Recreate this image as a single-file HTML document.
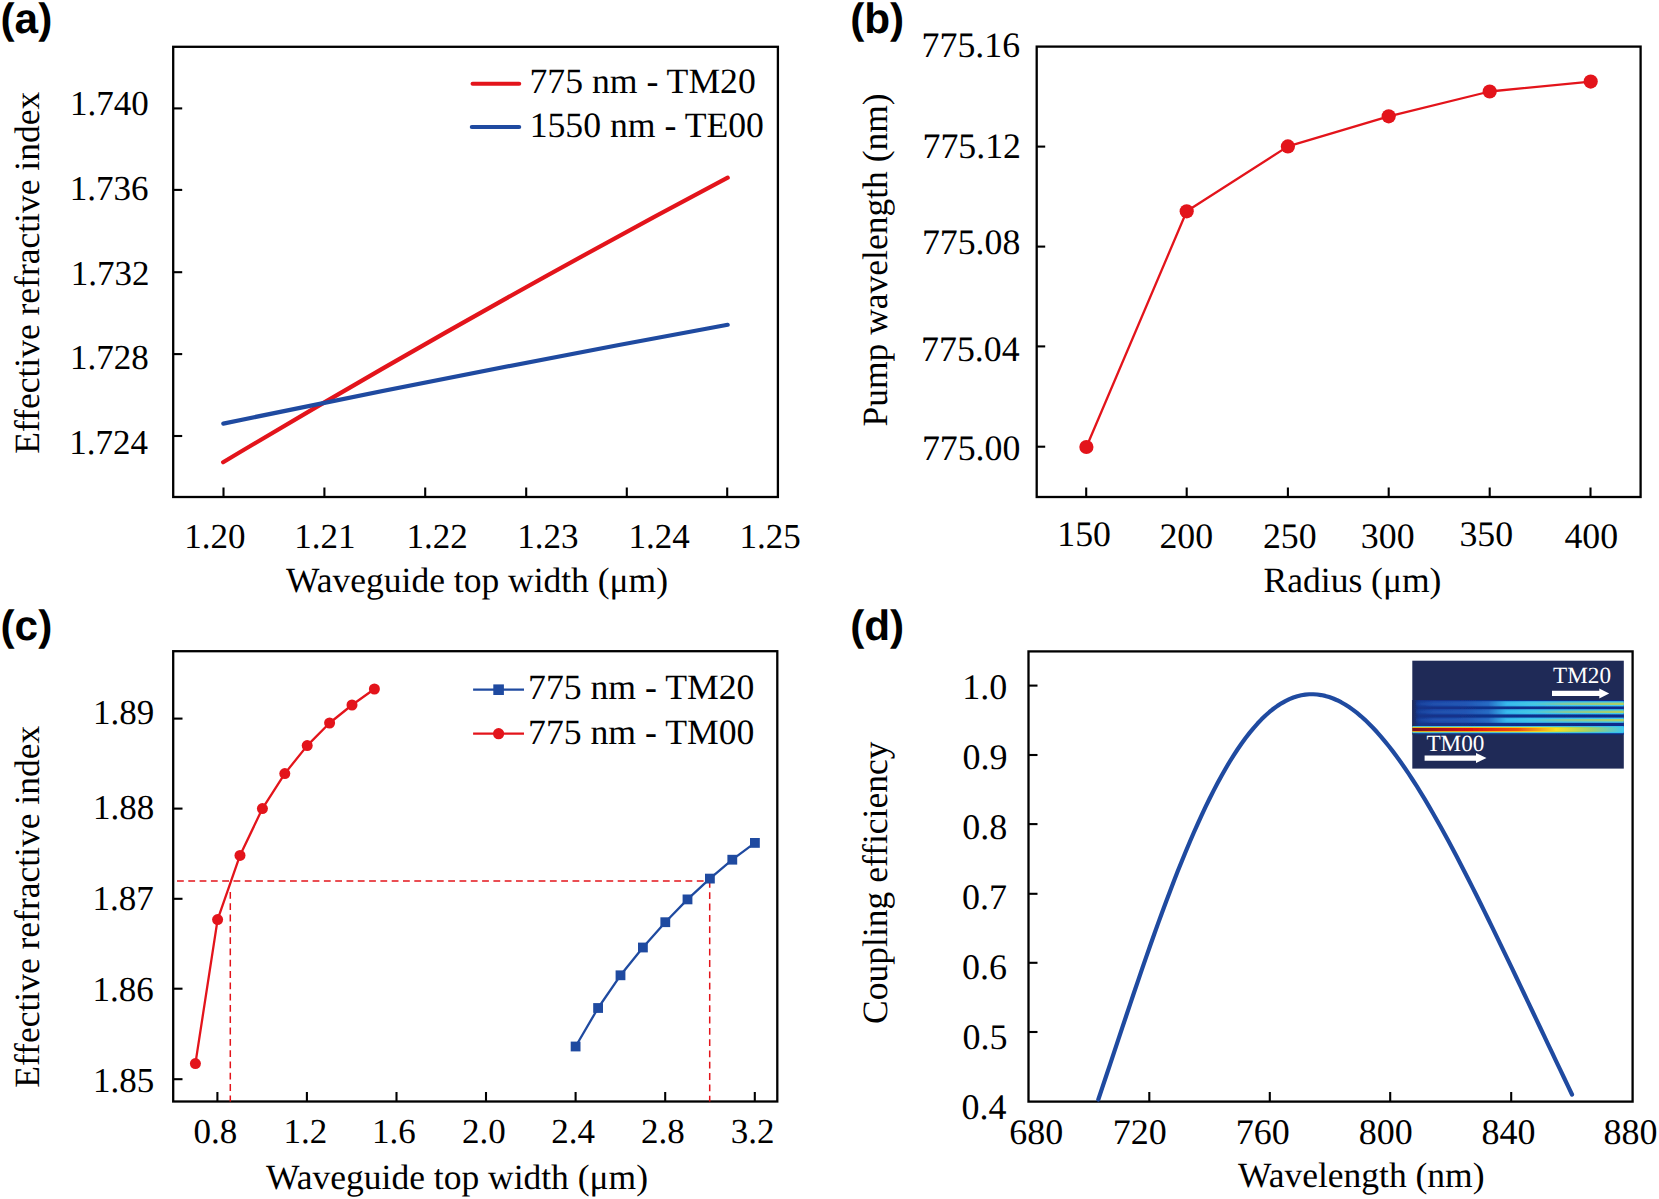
<!DOCTYPE html>
<html><head><meta charset="utf-8"><style>
html,body{margin:0;padding:0;background:#fff;}
svg{display:block;}
text{text-rendering:geometricPrecision;}
</style></head><body>
<svg width="1659" height="1199" viewBox="0 0 1659 1199">
<rect width="1659" height="1199" fill="#fff"/>
<text x="0.54" y="33.03" font-family='"Liberation Sans", sans-serif' font-size="42.3" font-weight="bold" fill="#000">(a)</text>
<text x="850.18" y="33.03" font-family='"Liberation Sans", sans-serif' font-size="42.3" font-weight="bold" fill="#000">(b)</text>
<text x="0.54" y="639.83" font-family='"Liberation Sans", sans-serif' font-size="42.3" font-weight="bold" fill="#000">(c)</text>
<text x="850.18" y="639.83" font-family='"Liberation Sans", sans-serif' font-size="42.3" font-weight="bold" fill="#000">(d)</text>
<rect x="173.2" y="46.8" width="604.7" height="450.2" fill="none" stroke="#000" stroke-width="2.3"/>
<line x1="223.5" y1="497" x2="223.5" y2="487.5" stroke="#000" stroke-width="2.1" stroke-linecap="butt"/>
<line x1="324.4" y1="497" x2="324.4" y2="487.5" stroke="#000" stroke-width="2.1" stroke-linecap="butt"/>
<line x1="425.2" y1="497" x2="425.2" y2="487.5" stroke="#000" stroke-width="2.1" stroke-linecap="butt"/>
<line x1="526.2" y1="497" x2="526.2" y2="487.5" stroke="#000" stroke-width="2.1" stroke-linecap="butt"/>
<line x1="626.8" y1="497" x2="626.8" y2="487.5" stroke="#000" stroke-width="2.1" stroke-linecap="butt"/>
<line x1="727.2" y1="497" x2="727.2" y2="487.5" stroke="#000" stroke-width="2.1" stroke-linecap="butt"/>
<line x1="173.2" y1="108.4" x2="182.2" y2="108.4" stroke="#000" stroke-width="2.1" stroke-linecap="butt"/>
<line x1="173.2" y1="189.9" x2="182.2" y2="189.9" stroke="#000" stroke-width="2.1" stroke-linecap="butt"/>
<line x1="173.2" y1="272.2" x2="182.2" y2="272.2" stroke="#000" stroke-width="2.1" stroke-linecap="butt"/>
<line x1="173.2" y1="354.1" x2="182.2" y2="354.1" stroke="#000" stroke-width="2.1" stroke-linecap="butt"/>
<line x1="173.2" y1="436" x2="182.2" y2="436" stroke="#000" stroke-width="2.1" stroke-linecap="butt"/>
<text x="70.08" y="115.31" font-family='"Liberation Serif", serif' font-size="35" fill="#000">1.740</text>
<text x="69.8" y="200.01" font-family='"Liberation Serif", serif' font-size="35" fill="#000">1.736</text>
<text x="70.71" y="284.51" font-family='"Liberation Serif", serif' font-size="35" fill="#000">1.732</text>
<text x="70.08" y="369.41" font-family='"Liberation Serif", serif' font-size="35" fill="#000">1.728</text>
<text x="69.31" y="453.81" font-family='"Liberation Serif", serif' font-size="35" fill="#000">1.724</text>
<text x="184.2" y="547.71" font-family='"Liberation Serif", serif' font-size="35" fill="#000">1.20</text>
<text x="294.19" y="547.71" font-family='"Liberation Serif", serif' font-size="35" fill="#000">1.21</text>
<text x="406.51" y="547.71" font-family='"Liberation Serif", serif' font-size="35" fill="#000">1.22</text>
<text x="517.13" y="547.71" font-family='"Liberation Serif", serif' font-size="35" fill="#000">1.23</text>
<text x="628.41" y="547.71" font-family='"Liberation Serif", serif' font-size="35" fill="#000">1.24</text>
<text x="739.53" y="547.71" font-family='"Liberation Serif", serif' font-size="35" fill="#000">1.25</text>
<text x="286.1" y="592" font-family='"Liberation Serif", serif' font-size="35.5" fill="#000">Waveguide top width (μm)</text>
<text transform="translate(39.4,452.8) rotate(-90)" x="-0.99" y="0" font-family='"Liberation Serif", serif' font-size="35.5">Effective refractive index</text>
<path d="M223.1,462.25 Q475.35,311.4 727.7,177.7" fill="none" stroke="#e3141b" stroke-width="4.2" stroke-linecap="round"/>
<path d="M223.3,423.6 Q475.5,371.1 727.7,324.8" fill="none" stroke="#1f4aa0" stroke-width="4.2" stroke-linecap="round"/>
<line x1="472.6" y1="83.8" x2="519.2" y2="83.8" stroke="#e3141b" stroke-width="4.1" stroke-linecap="round"/>
<line x1="471.8" y1="127" x2="519.2" y2="127" stroke="#1f4aa0" stroke-width="4.1" stroke-linecap="round"/>
<text x="529.44" y="93.2" font-family='"Liberation Serif", serif' font-size="35.7" fill="#000">775 nm - TM20</text>
<text x="529.66" y="136.5" font-family='"Liberation Serif", serif' font-size="35.7" fill="#000">1550 nm - TE00</text>
<rect x="1036.7" y="46.6" width="603.9" height="450.4" fill="none" stroke="#000" stroke-width="2.3"/>
<line x1="1086.2" y1="497" x2="1086.2" y2="487.5" stroke="#000" stroke-width="2.1" stroke-linecap="butt"/>
<line x1="1186.7" y1="497" x2="1186.7" y2="487.5" stroke="#000" stroke-width="2.1" stroke-linecap="butt"/>
<line x1="1287.9" y1="497" x2="1287.9" y2="487.5" stroke="#000" stroke-width="2.1" stroke-linecap="butt"/>
<line x1="1388.7" y1="497" x2="1388.7" y2="487.5" stroke="#000" stroke-width="2.1" stroke-linecap="butt"/>
<line x1="1489.7" y1="497" x2="1489.7" y2="487.5" stroke="#000" stroke-width="2.1" stroke-linecap="butt"/>
<line x1="1590.5" y1="497" x2="1590.5" y2="487.5" stroke="#000" stroke-width="2.1" stroke-linecap="butt"/>
<line x1="1036.7" y1="146.6" x2="1045.2" y2="146.6" stroke="#000" stroke-width="2.1" stroke-linecap="butt"/>
<line x1="1036.7" y1="246.6" x2="1045.2" y2="246.6" stroke="#000" stroke-width="2.1" stroke-linecap="butt"/>
<line x1="1036.7" y1="346.4" x2="1045.2" y2="346.4" stroke="#000" stroke-width="2.1" stroke-linecap="butt"/>
<line x1="1036.7" y1="446.7" x2="1045.2" y2="446.7" stroke="#000" stroke-width="2.1" stroke-linecap="butt"/>
<text x="921.62" y="57.3" font-family='"Liberation Serif", serif' font-size="35.8" fill="#000">775.16</text>
<text x="922.55" y="157.6" font-family='"Liberation Serif", serif' font-size="35.8" fill="#000">775.12</text>
<text x="921.91" y="254.07" font-family='"Liberation Serif", serif' font-size="35.8" fill="#000">775.08</text>
<text x="921.12" y="360.87" font-family='"Liberation Serif", serif' font-size="35.8" fill="#000">775.04</text>
<text x="921.91" y="459.67" font-family='"Liberation Serif", serif' font-size="35.8" fill="#000">775.00</text>
<text x="1057.26" y="546.14" font-family='"Liberation Serif", serif' font-size="35.8" fill="#000">150</text>
<text x="1159.44" y="548.14" font-family='"Liberation Serif", serif' font-size="35.8" fill="#000">200</text>
<text x="1262.94" y="548.14" font-family='"Liberation Serif", serif' font-size="35.8" fill="#000">250</text>
<text x="1360.87" y="548.14" font-family='"Liberation Serif", serif' font-size="35.8" fill="#000">300</text>
<text x="1459.47" y="545.84" font-family='"Liberation Serif", serif' font-size="35.8" fill="#000">350</text>
<text x="1564.47" y="548.14" font-family='"Liberation Serif", serif' font-size="35.8" fill="#000">400</text>
<text x="1263.61" y="591.8" font-family='"Liberation Serif", serif' font-size="35.5" fill="#000">Radius (μm)</text>
<text transform="translate(886.7,425.6) rotate(-90)" x="-0.99" y="0" font-family='"Liberation Serif", serif' font-size="35.5">Pump wavelength (nm)</text>
<polyline points="1086.4,447 1186.7,211.3 1287.9,146.4 1388.7,116.3 1489.7,91.5 1590.7,81.6" fill="none" stroke="#e3141b" stroke-width="2.3" stroke-linejoin="round" stroke-linecap="round"/>
<circle cx="1086.4" cy="447" r="7.1" fill="#e3141b"/>
<circle cx="1186.7" cy="211.3" r="7.1" fill="#e3141b"/>
<circle cx="1287.9" cy="146.4" r="7.1" fill="#e3141b"/>
<circle cx="1388.7" cy="116.3" r="7.1" fill="#e3141b"/>
<circle cx="1489.7" cy="91.5" r="7.1" fill="#e3141b"/>
<circle cx="1590.7" cy="81.6" r="7.1" fill="#e3141b"/>
<rect x="173.2" y="651.2" width="604.1" height="450.3" fill="none" stroke="#000" stroke-width="2.3"/>
<line x1="217.4" y1="1101.5" x2="217.4" y2="1092" stroke="#000" stroke-width="2.1" stroke-linecap="butt"/>
<line x1="306.9" y1="1101.5" x2="306.9" y2="1092" stroke="#000" stroke-width="2.1" stroke-linecap="butt"/>
<line x1="396.5" y1="1101.5" x2="396.5" y2="1092" stroke="#000" stroke-width="2.1" stroke-linecap="butt"/>
<line x1="486" y1="1101.5" x2="486" y2="1092" stroke="#000" stroke-width="2.1" stroke-linecap="butt"/>
<line x1="575.6" y1="1101.5" x2="575.6" y2="1092" stroke="#000" stroke-width="2.1" stroke-linecap="butt"/>
<line x1="665.2" y1="1101.5" x2="665.2" y2="1092" stroke="#000" stroke-width="2.1" stroke-linecap="butt"/>
<line x1="754.8" y1="1101.5" x2="754.8" y2="1092" stroke="#000" stroke-width="2.1" stroke-linecap="butt"/>
<line x1="173.2" y1="718.6" x2="182.5" y2="718.6" stroke="#000" stroke-width="2.1" stroke-linecap="butt"/>
<line x1="173.2" y1="808.6" x2="182.5" y2="808.6" stroke="#000" stroke-width="2.1" stroke-linecap="butt"/>
<line x1="173.2" y1="898.8" x2="182.5" y2="898.8" stroke="#000" stroke-width="2.1" stroke-linecap="butt"/>
<line x1="173.2" y1="988.7" x2="182.5" y2="988.7" stroke="#000" stroke-width="2.1" stroke-linecap="butt"/>
<line x1="173.2" y1="1079.2" x2="182.5" y2="1079.2" stroke="#000" stroke-width="2.1" stroke-linecap="butt"/>
<text x="93.02" y="724.41" font-family='"Liberation Serif", serif' font-size="35" fill="#000">1.89</text>
<text x="92.88" y="818.71" font-family='"Liberation Serif", serif' font-size="35" fill="#000">1.88</text>
<text x="92.53" y="910.41" font-family='"Liberation Serif", serif' font-size="35" fill="#000">1.87</text>
<text x="92.6" y="1001.11" font-family='"Liberation Serif", serif' font-size="35" fill="#000">1.86</text>
<text x="92.95" y="1092.31" font-family='"Liberation Serif", serif' font-size="35" fill="#000">1.85</text>
<text x="193.62" y="1143.41" font-family='"Liberation Serif", serif' font-size="35" fill="#000">0.8</text>
<text x="283.56" y="1143.41" font-family='"Liberation Serif", serif' font-size="35" fill="#000">1.2</text>
<text x="372.11" y="1143.41" font-family='"Liberation Serif", serif' font-size="35" fill="#000">1.6</text>
<text x="462.02" y="1143.41" font-family='"Liberation Serif", serif' font-size="35" fill="#000">2.0</text>
<text x="551.34" y="1143.41" font-family='"Liberation Serif", serif' font-size="35" fill="#000">2.4</text>
<text x="641.02" y="1143.41" font-family='"Liberation Serif", serif' font-size="35" fill="#000">2.8</text>
<text x="730.87" y="1143.41" font-family='"Liberation Serif", serif' font-size="35" fill="#000">3.2</text>
<text x="266.1" y="1189" font-family='"Liberation Serif", serif' font-size="35.5" fill="#000">Waveguide top width (μm)</text>
<text transform="translate(39.2,1086.8) rotate(-90)" x="-0.99" y="0" font-family='"Liberation Serif", serif' font-size="35.5">Effective refractive index</text>
<line x1="177" y1="881" x2="709.7" y2="881" stroke="#e3141b" stroke-width="1.5" stroke-linecap="butt" stroke-dasharray="6.8 4.5"/>
<line x1="230.3" y1="892" x2="230.3" y2="1101.5" stroke="#e3141b" stroke-width="1.5" stroke-linecap="butt" stroke-dasharray="6.8 4.5"/>
<line x1="709.7" y1="881" x2="709.7" y2="1101.5" stroke="#e3141b" stroke-width="1.5" stroke-linecap="butt" stroke-dasharray="6.8 4.5"/>
<polyline points="195.4,1063.6 217.6,919.6 240,855.4 262.4,808.6 284.8,773.6 307.2,745.6 329.6,723 352,705 374.4,689" fill="none" stroke="#e3141b" stroke-width="2.3" stroke-linejoin="round" stroke-linecap="round"/>
<circle cx="195.4" cy="1063.6" r="5.5" fill="#e3141b"/>
<circle cx="217.6" cy="919.6" r="5.5" fill="#e3141b"/>
<circle cx="240" cy="855.4" r="5.5" fill="#e3141b"/>
<circle cx="262.4" cy="808.6" r="5.5" fill="#e3141b"/>
<circle cx="284.8" cy="773.6" r="5.5" fill="#e3141b"/>
<circle cx="307.2" cy="745.6" r="5.5" fill="#e3141b"/>
<circle cx="329.6" cy="723" r="5.5" fill="#e3141b"/>
<circle cx="352" cy="705" r="5.5" fill="#e3141b"/>
<circle cx="374.4" cy="689" r="5.5" fill="#e3141b"/>
<polyline points="575.6,1046.5 598.1,1008 620.5,975.3 642.9,947.5 665.3,922.2 687.5,899.4 709.9,878.6 732.3,859.7 754.9,842.9" fill="none" stroke="#1f4aa0" stroke-width="2.3" stroke-linejoin="round" stroke-linecap="round"/>
<rect x="570.7" y="1041.6" width="9.8" height="9.8" fill="#1f4aa0"/>
<rect x="593.2" y="1003.1" width="9.8" height="9.8" fill="#1f4aa0"/>
<rect x="615.6" y="970.4" width="9.8" height="9.8" fill="#1f4aa0"/>
<rect x="638" y="942.6" width="9.8" height="9.8" fill="#1f4aa0"/>
<rect x="660.4" y="917.3" width="9.8" height="9.8" fill="#1f4aa0"/>
<rect x="682.6" y="894.5" width="9.8" height="9.8" fill="#1f4aa0"/>
<rect x="705" y="873.7" width="9.8" height="9.8" fill="#1f4aa0"/>
<rect x="727.4" y="854.8" width="9.8" height="9.8" fill="#1f4aa0"/>
<rect x="750" y="838" width="9.8" height="9.8" fill="#1f4aa0"/>
<line x1="473.1" y1="689.7" x2="524" y2="689.7" stroke="#1f4aa0" stroke-width="2.3" stroke-linecap="butt"/>
<rect x="493.3" y="684.4" width="10.6" height="10.6" fill="#1f4aa0"/>
<line x1="473.1" y1="733.7" x2="524" y2="733.7" stroke="#e3141b" stroke-width="2.3" stroke-linecap="butt"/>
<circle cx="498.6" cy="733.7" r="5.6" fill="#e3141b"/>
<text x="528.04" y="699.4" font-family='"Liberation Serif", serif' font-size="35.7" fill="#000">775 nm - TM20</text>
<text x="528.04" y="743.7" font-family='"Liberation Serif", serif' font-size="35.7" fill="#000">775 nm - TM00</text>
<rect x="1028.5" y="651.4" width="604.1" height="450.2" fill="none" stroke="#000" stroke-width="2.3"/>
<line x1="1149.3" y1="1101.6" x2="1149.3" y2="1092" stroke="#000" stroke-width="2.1" stroke-linecap="butt"/>
<line x1="1269.8" y1="1101.6" x2="1269.8" y2="1092" stroke="#000" stroke-width="2.1" stroke-linecap="butt"/>
<line x1="1390.2" y1="1101.6" x2="1390.2" y2="1092" stroke="#000" stroke-width="2.1" stroke-linecap="butt"/>
<line x1="1511.2" y1="1101.6" x2="1511.2" y2="1092" stroke="#000" stroke-width="2.1" stroke-linecap="butt"/>
<line x1="1028.5" y1="685.6" x2="1037.5" y2="685.6" stroke="#000" stroke-width="2.1" stroke-linecap="butt"/>
<line x1="1028.5" y1="755" x2="1037.5" y2="755" stroke="#000" stroke-width="2.1" stroke-linecap="butt"/>
<line x1="1028.5" y1="824.1" x2="1037.5" y2="824.1" stroke="#000" stroke-width="2.1" stroke-linecap="butt"/>
<line x1="1028.5" y1="893.8" x2="1037.5" y2="893.8" stroke="#000" stroke-width="2.1" stroke-linecap="butt"/>
<line x1="1028.5" y1="962.8" x2="1037.5" y2="962.8" stroke="#000" stroke-width="2.1" stroke-linecap="butt"/>
<line x1="1028.5" y1="1032" x2="1037.5" y2="1032" stroke="#000" stroke-width="2.1" stroke-linecap="butt"/>
<text x="962.37" y="699.14" font-family='"Liberation Serif", serif' font-size="36" fill="#000">1.0</text>
<text x="962.51" y="769.14" font-family='"Liberation Serif", serif' font-size="36" fill="#000">0.9</text>
<text x="962.37" y="838.94" font-family='"Liberation Serif", serif' font-size="36" fill="#000">0.8</text>
<text x="962.01" y="909.34" font-family='"Liberation Serif", serif' font-size="36" fill="#000">0.7</text>
<text x="962.08" y="979.04" font-family='"Liberation Serif", serif' font-size="36" fill="#000">0.6</text>
<text x="962.44" y="1049.24" font-family='"Liberation Serif", serif' font-size="36" fill="#000">0.5</text>
<text x="961.58" y="1118.84" font-family='"Liberation Serif", serif' font-size="36" fill="#000">0.4</text>
<text x="1009.33" y="1143.84" font-family='"Liberation Serif", serif' font-size="36" fill="#000">680</text>
<text x="1112.7" y="1143.84" font-family='"Liberation Serif", serif' font-size="36" fill="#000">720</text>
<text x="1235.7" y="1143.84" font-family='"Liberation Serif", serif' font-size="36" fill="#000">760</text>
<text x="1358.8" y="1143.84" font-family='"Liberation Serif", serif' font-size="36" fill="#000">800</text>
<text x="1481.6" y="1143.84" font-family='"Liberation Serif", serif' font-size="36" fill="#000">840</text>
<text x="1603.5" y="1143.84" font-family='"Liberation Serif", serif' font-size="36" fill="#000">880</text>
<text x="1238" y="1186.9" font-family='"Liberation Serif", serif' font-size="35.5" fill="#000">Wavelength (nm)</text>
<text transform="translate(886.6,1022.4) rotate(-90)" x="-1.49" y="0" font-family='"Liberation Serif", serif' font-size="35.5">Coupling efficiency</text>
<defs>
<filter id="bl" x="-5%" y="-50%" width="110%" height="200%"><feGaussianBlur stdDeviation="0.7"/></filter>
<linearGradient id="gwg" x1="1412.3" x2="1623.8" y1="0" y2="0" gradientUnits="userSpaceOnUse">
<stop offset="0" stop-color="#1f2a58"/><stop offset="0.03" stop-color="#14348a"/><stop offset="1" stop-color="#0a2a8c"/>
</linearGradient>
<linearGradient id="gb" x1="1412.3" x2="1623.8" y1="0" y2="0" gradientUnits="userSpaceOnUse">
<stop offset="0" stop-color="#1a3a90" stop-opacity="0"/><stop offset="0.04" stop-color="#1a44a0" stop-opacity="0.6"/><stop offset="0.1" stop-color="#1d48a8"/><stop offset="0.25" stop-color="#2052b0"/><stop offset="0.36" stop-color="#2466c0"/><stop offset="0.44" stop-color="#30b0e8"/><stop offset="0.55" stop-color="#38c0f0"/><stop offset="1" stop-color="#40c8f0"/>
</linearGradient>
<linearGradient id="gbc" x1="1412.3" x2="1623.8" y1="0" y2="0" gradientUnits="userSpaceOnUse">
<stop offset="0" stop-color="#1a3a90" stop-opacity="0"/><stop offset="0.04" stop-color="#1c48a4" stop-opacity="0.6"/><stop offset="0.1" stop-color="#2050ac"/><stop offset="0.25" stop-color="#2256b4"/><stop offset="0.36" stop-color="#286cc4"/><stop offset="0.45" stop-color="#38bcee"/><stop offset="0.58" stop-color="#48c8e0"/><stop offset="0.72" stop-color="#80c8a0"/><stop offset="1" stop-color="#b0d060"/>
</linearGradient>
<linearGradient id="gr1" x1="1412.3" x2="1623.8" y1="0" y2="0" gradientUnits="userSpaceOnUse">
<stop offset="0" stop-color="#30c0f0"/><stop offset="1" stop-color="#30c0f0"/>
</linearGradient>
<linearGradient id="gr2" x1="1412.3" x2="1623.8" y1="0" y2="0" gradientUnits="userSpaceOnUse">
<stop offset="0" stop-color="#f0d020"/><stop offset="0.6" stop-color="#f0e020"/><stop offset="0.8" stop-color="#a0d060"/><stop offset="1" stop-color="#40c8f0"/>
</linearGradient>
<linearGradient id="gr3" x1="1412.3" x2="1623.8" y1="0" y2="0" gradientUnits="userSpaceOnUse">
<stop offset="0" stop-color="#801020"/><stop offset="0.1" stop-color="#a01018"/><stop offset="0.28" stop-color="#e01010"/><stop offset="0.5" stop-color="#f05010"/><stop offset="0.68" stop-color="#f8e020"/><stop offset="0.85" stop-color="#a0d068"/><stop offset="1" stop-color="#40c8f0"/>
</linearGradient>
</defs>
<rect x="1412.3" y="660.7" width="211.5" height="107.9" fill="#1f2a57"/>
<g filter="url(#bl)">
<rect x="1412.3" y="700.0" width="211.5" height="34.5" fill="url(#gwg)"/>
<rect x="1416" y="701.2" width="207.8" height="5.2" fill="url(#gb)"/>
<rect x="1416" y="702.6" width="207.8" height="2.4" fill="url(#gbc)"/>
<rect x="1416" y="709.2" width="207.8" height="5.2" fill="url(#gb)"/>
<rect x="1416" y="710.6" width="207.8" height="2.4" fill="url(#gbc)"/>
<rect x="1416" y="717.6" width="207.8" height="5.2" fill="url(#gb)"/>
<rect x="1416" y="719" width="207.8" height="2.4" fill="url(#gbc)"/>
<rect x="1412.3" y="726.0" width="211.5" height="7.2" fill="url(#gr1)"/>
<rect x="1412.3" y="726.9" width="211.5" height="5.3" fill="url(#gr2)"/>
<rect x="1412.3" y="727.9" width="211.5" height="3.3" fill="url(#gr3)"/>
</g>
<rect x="1412.3" y="660.7" width="211.5" height="107.9" fill="none" stroke="#1f2a57" stroke-width="0"/>
<text x="1553.08" y="683.1" font-family='"Liberation Serif", serif' font-size="23.2" fill="#fff">TM20</text>
<text x="1426.38" y="751.3" font-family='"Liberation Serif", serif' font-size="23.2" fill="#fff">TM00</text>
<path d="M1552,690.75 L1599.3,690.75 L1599.3,688.4 L1609.2,693.4 L1599.3,698.4 L1599.3,696.05 L1552,696.05 Z" fill="#fff"/>
<path d="M1424.6,755.45 L1476,755.45 L1476,753.1 L1486.5,758.1 L1476,763.1 L1476,760.75 L1424.6,760.75 Z" fill="#fff"/>
<polyline points="1098.3,1099.49 1102.28,1087.65 1106.26,1075.75 1110.24,1063.8 1114.22,1051.83 1118.2,1039.86 1122.18,1027.9 1126.16,1015.97 1130.15,1004.1 1134.13,992.29 1138.11,980.56 1142.09,968.93 1146.07,957.41 1150.05,946.01 1154.03,934.76 1158.01,923.65 1161.99,912.72 1165.97,901.96 1169.95,891.39 1173.93,881.01 1177.91,870.85 1181.89,860.91 1185.87,851.2 1189.86,841.73 1193.84,832.5 1197.82,823.53 1201.8,814.82 1205.78,806.38 1209.76,798.21 1213.74,790.33 1217.72,782.73 1221.7,775.43 1225.68,768.43 1229.66,761.72 1233.64,755.33 1237.62,749.24 1241.6,743.46 1245.58,738 1249.57,732.86 1253.55,728.04 1257.53,723.54 1261.51,719.36 1265.49,715.5 1269.47,711.96 1273.45,708.75 1277.43,705.87 1281.41,703.3 1285.39,701.06 1289.37,699.14 1293.35,697.53 1297.33,696.25 1301.31,695.27 1305.29,694.62 1309.28,694.27 1313.26,694.23 1317.24,694.49 1321.22,695.05 1325.2,695.91 1329.18,697.06 1333.16,698.5 1337.14,700.23 1341.12,702.24 1345.1,704.52 1349.08,707.07 1353.06,709.88 1357.04,712.96 1361.02,716.29 1365.01,719.86 1368.99,723.69 1372.97,727.74 1376.95,732.03 1380.93,736.54 1384.91,741.28 1388.89,746.22 1392.87,751.37 1396.85,756.72 1400.83,762.26 1404.81,767.99 1408.79,773.9 1412.77,779.98 1416.75,786.22 1420.73,792.63 1424.72,799.18 1428.7,805.89 1432.68,812.73 1436.66,819.7 1440.64,826.8 1444.62,834.02 1448.6,841.35 1452.58,848.79 1456.56,856.33 1460.54,863.96 1464.52,871.67 1468.5,879.47 1472.48,887.34 1476.46,895.28 1480.44,903.28 1484.43,911.34 1488.41,919.46 1492.39,927.61 1496.37,935.81 1500.35,944.05 1504.33,952.32 1508.31,960.61 1512.29,968.93 1516.27,977.27 1520.25,985.63 1524.23,993.99 1528.21,1002.37 1532.19,1010.75 1536.17,1019.13 1540.15,1027.52 1544.14,1035.9 1548.12,1044.28 1552.1,1052.66 1556.08,1061.03 1560.06,1069.4 1564.04,1077.77 1568.02,1086.12 1572,1094.48" fill="none" stroke="#1f4aa0" stroke-width="4.2" stroke-linejoin="round" stroke-linecap="round"/>
</svg>
</body></html>
